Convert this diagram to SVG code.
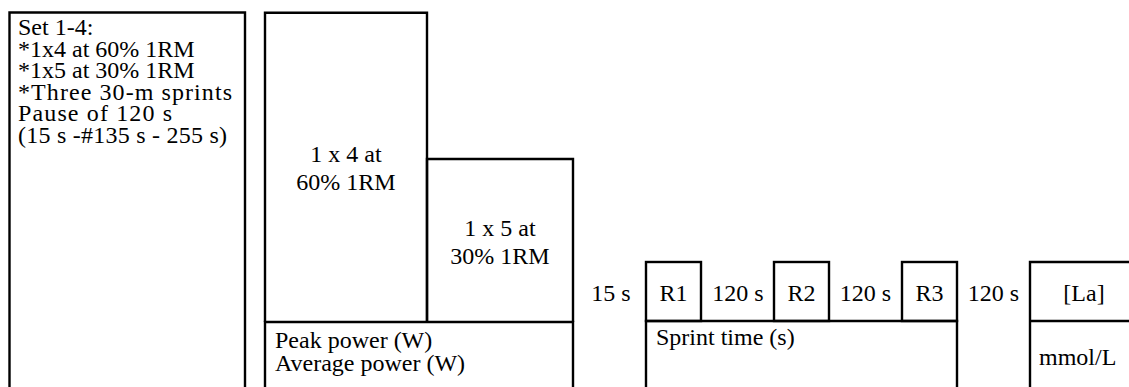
<svg xmlns="http://www.w3.org/2000/svg" width="1129" height="387" viewBox="0 0 1129 387">
<style>
.box{fill:none;stroke:#000;stroke-width:2.4;stroke-linejoin:miter}
text{font-family:"Liberation Serif","Times New Roman",serif;font-size:24px;fill:#000}
.c{text-anchor:middle}
</style>
<rect width="1129" height="387" fill="#fff"/>
<g id="protocol-summary">
<path class="box" d="M9.5,395 V12.5 H245 V395"/>
<text x="18" y="35">Set 1-4:</text>
<text x="18" y="56.5">*1x4 at 60% 1RM</text>
<text x="18" y="78">*1x5 at 30% 1RM</text>
<text x="18" y="99.5" textLength="214" lengthAdjust="spacing">*Three 30-m sprints</text>
<text x="18" y="121" textLength="154" lengthAdjust="spacing">Pause of 120 s</text>
<text x="18" y="142.5" textLength="209" lengthAdjust="spacing">(15 s -#135 s - 255 s)</text>
</g>
<g id="set-60">
<path class="box" d="M265,322 V12.8 H427 V322"/>
<text class="c" x="346" y="162">1 x 4 at</text>
<text class="c" x="346" y="190">60% 1RM</text>
</g>
<g id="set-30">
<path class="box" d="M427,322 V159 H573 V322"/>
<text class="c" x="500" y="236">1 x 5 at</text>
<text class="c" x="500" y="264">30% 1RM</text>
</g>
<g id="power-measure">
<path class="box" d="M265,395 V322 H573 V395"/>
<text x="275" y="348">Peak power (W)</text>
<text x="275" y="371">Average power (W)</text>
</g>
<g id="pause-15">
<text class="c" x="611" y="301">15 s</text>
</g>
<g id="sprint-r1">
<rect class="box" x="646" y="262" width="55" height="59"/>
<text class="c" x="673.5" y="301">R1</text>
</g>
<g id="pause-120-a">
<text class="c" x="738" y="301">120 s</text>
</g>
<g id="sprint-r2">
<rect class="box" x="774" y="262" width="55" height="59"/>
<text class="c" x="801.5" y="301">R2</text>
</g>
<g id="pause-120-b">
<text class="c" x="865.5" y="301">120 s</text>
</g>
<g id="sprint-r3">
<rect class="box" x="902" y="262" width="55" height="59"/>
<text class="c" x="929.5" y="301">R3</text>
</g>
<g id="pause-120-c">
<text class="c" x="993.5" y="301">120 s</text>
</g>
<g id="sprint-time">
<path class="box" d="M646,395 V321 H957 V395"/>
<text x="656" y="345">Sprint time (s)</text>
</g>
<g id="lactate">
<path class="box" d="M1030,395 V262 H1140 M1030,321 H1140"/>
<text class="c" x="1084" y="301">[La]</text>
<text x="1039" y="365">mmol/L</text>
</g>
<g id="connectors"/>
</svg>
